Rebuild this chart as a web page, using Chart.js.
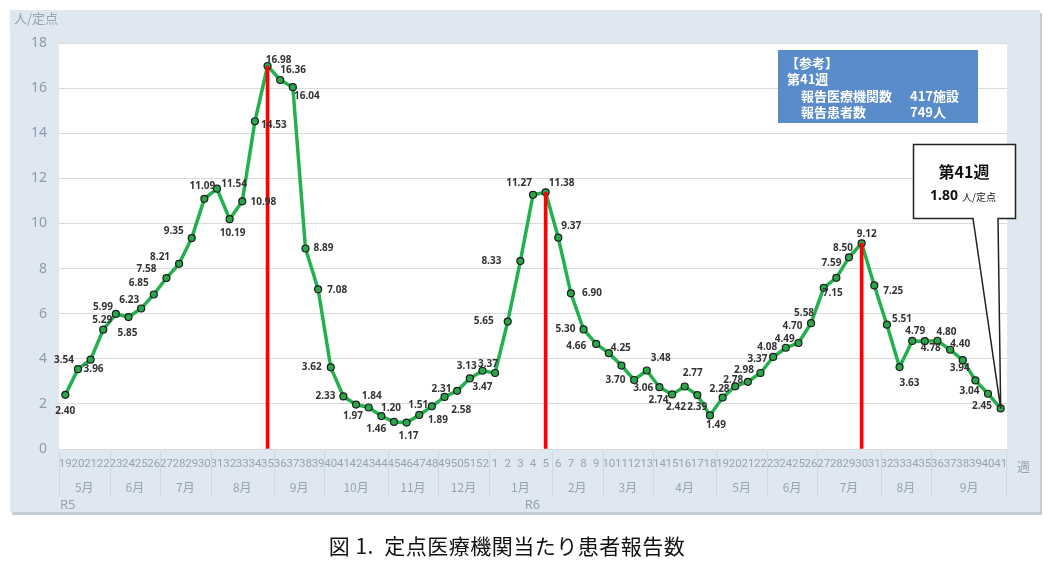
<!DOCTYPE html>
<html lang="ja">
<head>
    <meta charset="UTF-8">
    <title>定点医療機関当たり患者報告数</title>
    <script src="https://cdn.jsdelivr.net/npm/chart.js"></script>
    <style>
        html, body { margin: 0; padding: 0; background: #fff; }
        #wrap { position: relative; width: 1054px; height: 561px; overflow: hidden; }
        #grafico { position: absolute; left: 0; top: 0; }
        #titolo {
            position: absolute; left: 0; top: 530px; width: 1014px;
            text-align: center; font-family: "Noto Sans CJK JP", sans-serif;
            font-size: 21px; font-weight: 400; color: #111; letter-spacing: 0.5px;
        }
    </style>
</head>
<body>
<div id="wrap">
    <canvas id="grafico" width="1054" height="561"></canvas>
    <div id="titolo">図 1.&nbsp; 定点医療機関当たり患者報告数</div>
</div>

<script>
// 週ラベル（R5: 19〜52週, R6: 1〜41週）
const settimaneR5 = ['19','20','21','22','23','24','25','26','27','28','29','30','31','32','33','34','35',
    '36','37','38','39','40','41','42','43','44','45','46','47','48','49','50','51','52'];
const settimaneR6 = ['1','2','3','4','5','6','7','8','9','10','11','12','13','14','15','16','17','18','19','20',
    '21','22','23','24','25','26','27','28','29','30','31','32','33','34','35','36','37','38','39','40','41'];

// 定点当たり報告数
const valoriR5 = [2.40, 3.54, 3.96, 5.29, 5.99, 5.85, 6.23, 6.85, 7.58, 8.21, 9.35, 11.09, 11.54, 10.19, 10.98,
    14.53, 16.98, 16.36, 16.04, 8.89, 7.08, 3.62, 2.33, 1.97, 1.84, 1.46, 1.20, 1.17, 1.51, 1.89, 2.31, 2.58, 3.13, 3.47];
const valoriR6 = [3.37, 5.65, 8.33, 11.27, 11.38, 9.37, 6.90, 5.30, 4.66, 4.25, 3.70, 3.06, 3.48, 2.74, 2.42, 2.77,
    2.39, 1.49, 2.28, 2.78, 2.98, 3.37, 4.08, 4.49, 4.70, 5.58, 7.15, 7.59, 8.50, 9.12, 7.25, 5.51, 3.63, 4.79, 4.78,
    4.80, 4.40, 3.94, 3.04, 2.45, 1.80];

// 月のグループ（週数）
const mesiR5 = ['5月','6月','7月','8月','9月','10月','11月','12月'];
const spanR5 = [4, 4, 4, 5, 4, 5, 4, 4];
const mesiR6 = ['1月','2月','3月','4月','5月','6月','7月','8月','9月'];
const spanR6 = [5, 4, 4, 5, 4, 4, 5, 4, 6];

// ピーク週（赤線）
const piccoR5 = ['35'];
const piccoR6 = ['5', '30'];

// y軸目盛
const yMin = 0, yMax = 18, yPasso = 2;

// データラベルの位置（点からのずれ px）
const offsetEtichette = [
    [0,16],[-14,-9],[3,9],[-1,-10],[-13,-7],[-1,16],[-12,-8],[-15,-11],[-20,-9],[-19,-7],[-18,-7],[-2,-13],
    [17,-5],[3,14],[21,1],[19,4],[11,-6],[13,-10],[14,9],[18,0],[19,1],[-19,0],[-18,0],[-3,12],[3,-11],
    [-5,13],[-3,-14],[2,14],[-1,-10],[6,14],[-3,-8],[4,19],[-3,-12],[0,16],
    [-7,-9],[-24,0],[-29,0],[-14,-12],[16,-9],[13,-11],[21,0],[-18,0],[-20,2],[12,-5],[-6,15],[9,8],
    [14,-12],[-1,13],[4,13],[8,-13],[0,12],[6,10],[-3,-8],[-2,-6],[-4,-12],[-3,-14],[-6,-10],[-1,-9],
    [-6,-17],[-7,-10],[9,5],[-5,-15],[-6,-9],[5,-9],[19,6],[15,-6],[10,16],[3,-10],[6,7],[9,-9],[10,-6],
    [-3,8],[-6,11],[-6,12],null
];

const etichette = settimaneR5.concat(settimaneR6);
const valori = valoriR5.concat(valoriR6);
const picchi = valori.map((v, i) => {
    const r5 = i < settimaneR5.length;
    const w = etichette[i];
    return (r5 ? piccoR5 : piccoR6).includes(w) ? v : null;
});

const grigio = '#97a3b4';

const sfondo = {
    id: 'sfondo',
    beforeDraw(chart) {
        const { ctx, chartArea: a } = chart;
        ctx.save();
        ctx.fillStyle = '#c7ccd4';
        ctx.fillRect(12, 13, 1030, 502);
        ctx.fillStyle = '#dfe7f1';
        ctx.fillRect(10, 10, 1030, 502);
        ctx.fillStyle = '#ffffff';
        ctx.fillRect(a.left, a.top, a.right - a.left, a.bottom - a.top);
        ctx.restore();
    }
};

const assiGruppi = {
    id: 'assiGruppi',
    afterDraw(chart) {
        const { ctx, chartArea: a } = chart;
        const x = chart.scales.x;
        const mezzo = (x.getPixelForValue(1) - x.getPixelForValue(0)) / 2;
        ctx.save();
        ctx.strokeStyle = '#cdd6e2';
        ctx.lineWidth = 1;
        ctx.fillStyle = grigio;
        ctx.font = '12px "Noto Sans CJK JP"';
        ctx.textAlign = 'center';
        ctx.textBaseline = 'middle';
        const mesi = mesiR5.concat(mesiR6);
        const span = spanR5.concat(spanR6);
        let i = 0;
        mesi.forEach((m, k) => {
            const s = i, e = i + span[k] - 1;
            const xs = x.getPixelForValue(s) - mezzo;
            ctx.beginPath();
            ctx.moveTo(Math.round(xs) + 0.5, a.bottom + 2);
            ctx.lineTo(Math.round(xs) + 0.5, a.bottom + 47);
            ctx.stroke();
            ctx.fillText(m, (x.getPixelForValue(s) + x.getPixelForValue(e)) / 2, a.bottom + 38);
            i += span[k];
        });
        const xf = x.getPixelForValue(i - 1) + mezzo;
        ctx.beginPath();
        ctx.moveTo(Math.round(xf) - 0.5, a.bottom + 2);
        ctx.lineTo(Math.round(xf) - 0.5, a.bottom + 47);
        ctx.stroke();

        // 年
        ctx.font = '13px "Noto Sans"';
        ctx.textAlign = 'left';
        ctx.fillText('R5', x.getPixelForValue(0) - mezzo + 1, a.bottom + 56);
        ctx.fillText('R6', x.getPixelForValue(settimaneR5.length) - mezzo + 36, a.bottom + 56);

        // 軸タイトル
        ctx.font = '13px "Noto Sans CJK JP"';
        ctx.fillText('人/定点', 14, 18);
        ctx.fillText('週', a.right + 10, a.bottom + 17);
        ctx.restore();
    }
};

const etichetteDati = {
    id: 'etichetteDati',
    afterDatasetsDraw(chart) {
        const { ctx } = chart;
        const meta = chart.getDatasetMeta(1);
        ctx.save();
        ctx.font = 'bold 10px "Noto Sans"';
        ctx.fillStyle = '#333';
        ctx.textAlign = 'center';
        ctx.textBaseline = 'middle';
        meta.data.forEach((p, i) => {
            const o = offsetEtichette[i];
            if (!o) return;
            ctx.fillText(valori[i].toFixed(2), p.x + o[0], p.y + o[1]);
        });

        // 参考ボックス
        ctx.fillStyle = '#5a8bcb';
        ctx.fillRect(778, 50, 200, 73);
        ctx.fillStyle = '#fff';
        ctx.textAlign = 'left';
        ctx.font = 'bold 13px "Noto Sans CJK JP"';
        ctx.fillText('【参考】', 786, 63);
        ctx.fillText('第41週', 787, 79);
        ctx.fillText('報告医療機関数', 801, 96);
        ctx.fillText('417施設', 910, 96);
        ctx.fillText('報告患者数', 801, 112);
        ctx.fillText('749人', 910, 112);

        // 吹き出し
        const ult = meta.data[meta.data.length - 1];
        ctx.beginPath();
        ctx.moveTo(913.5, 144.5);
        ctx.lineTo(1015.5, 144.5);
        ctx.lineTo(1015.5, 218.5);
        ctx.lineTo(998, 218.5);
        ctx.lineTo(ult.x, ult.y);
        ctx.lineTo(973, 218.5);
        ctx.lineTo(913.5, 218.5);
        ctx.closePath();
        ctx.fillStyle = '#fff';
        ctx.fill();
        ctx.strokeStyle = '#222';
        ctx.lineWidth = 1.5;
        ctx.stroke();
        ctx.fillStyle = '#111';
        ctx.textAlign = 'center';
        ctx.font = 'bold 16px "Noto Sans CJK JP"';
        ctx.fillText('第41週', 964, 172);
        ctx.textAlign = 'left';
        ctx.font = 'bold 14px "Noto Sans"';
        ctx.fillText(valori[valori.length - 1].toFixed(2), 930, 196);
        ctx.font = '10px "Noto Sans CJK JP"';
        ctx.fillText('人/定点', 962, 197);
        ctx.restore();
    }
};

new Chart(document.getElementById('grafico'), {
    type: 'line',
    data: {
        labels: etichette,
        datasets: [{
            type: 'bar',
            data: picchi,
            backgroundColor: '#ff0000',
            barThickness: 3,
            order: 0
        }, {
            type: 'line',
            data: valori,
            borderColor: '#22b14c',
            borderWidth: 3.5,
            tension: 0,
            pointRadius: 3.5,
            pointBackgroundColor: '#2aa64a',
            pointBorderColor: '#1b1b1b',
            pointBorderWidth: 1.2,
            order: 1
        }]
    },
    options: {
        responsive: false,
        animation: false,
        layout: { padding: { left: 0, top: 43, right: 47, bottom: 0 } },
        plugins: { legend: { display: false }, tooltip: { enabled: false } },
        scales: {
            x: {
                type: 'category',
                offset: true,
                grid: { display: false, drawTicks: false },
                border: { display: false },
                ticks: {
                    autoSkip: false, maxRotation: 0, minRotation: 0, padding: 8,
                    color: grigio, font: { family: 'Roboto', size: 11.5 }
                },
                afterFit(s) { s.height = 112; }
            },
            y: {
                min: yMin, max: yMax,
                grid: { color: '#dadada', drawTicks: false },
                border: { display: false },
                ticks: {
                    stepSize: yPasso, padding: 12,
                    color: '#8e9aab', font: { family: 'Noto Sans', size: 14 }
                },
                afterFit(s) { s.width = 59; }
            }
        }
    },
    plugins: [sfondo, assiGruppi, etichetteDati]
});
</script>
</body>
</html>
